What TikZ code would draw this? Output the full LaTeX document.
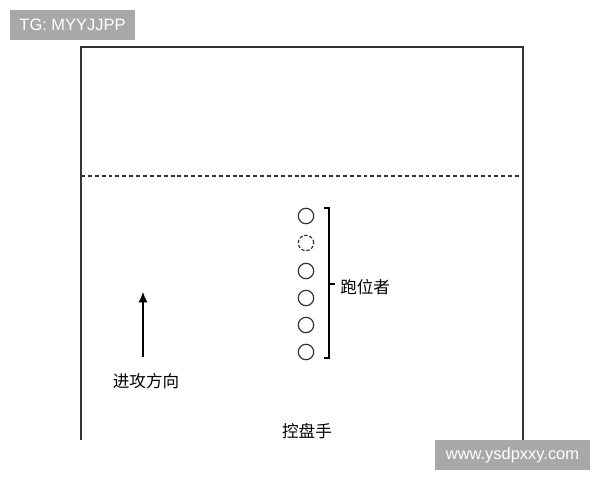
\documentclass[tikz,border=0pt]{standalone}
\usepackage{fontspec}
\setmainfont{Liberation Sans}
\newfontfamily\cjk{Noto Sans CJK SC}
\usetikzlibrary{arrows.meta,calc}
\definecolor{courtline}{HTML}{333333}
\definecolor{tagfill}{HTML}{A8A8A8}

\begin{document}
\begin{tikzpicture}[x=0.025cm, y=-0.025cm,
  player/.style={circle, draw=courtline, line width=0.85pt, minimum size=0.385cm, inner sep=0pt},
  tagbox/.style={fill=tagfill, text=white, font=\fontsize{11.7}{12}\selectfont, minimum height=0.75cm, inner sep=0pt},
  cntext/.style={font=\cjk\fontsize{11.8}{12}\selectfont, text=black, inner sep=0pt}]
  \useasboundingbox (0,0) rectangle (600,480);

  % Half court outline
  \coordinate (cbl) at (81,440);
  \coordinate (ctl) at (81,47);
  \coordinate (ctr) at (523,47);
  \coordinate (cbr) at (523,440);
  \draw[courtline, line width=1.1pt] (cbl) -- (ctl) -- (ctr) -- (cbr);

  % Three point line (dashed)
  \coordinate (dl) at (81,176);
  \coordinate (dr) at (523,176);
  \draw[courtline, line width=0.9pt, dash pattern=on 2.8pt off 2.1pt] (dl) -- (dr);

  % Runners in a column
  \foreach \i/\y in {1/216, 3/271, 4/298, 5/325, 6/352}
    \node[player] (r\i) at (306,\y) {};
  \node[player, dash pattern=on 2.4pt off 1.3pt] (r2) at (306,243) {};

  % Bracket with label
  \coordinate (bt) at (329,208);
  \coordinate (bb) at (329,358);
  \coordinate (bm) at (329,284);
  \draw[black, line width=0.9pt] ($(bt)+(-5,0)$) -- (bt) -- (bb) -- ($(bb)+(-5,0)$);
  \draw[black, line width=0.9pt] (bm) -- ($(bm)+(6,0)$);
  \node[cntext, anchor=west] (runner) at (340,287) {跑位者};

  % Direction of attack
  \node[cntext] (dir) at (146,381) {进攻方向};
  \coordinate (a0) at (143,357);
  \coordinate (a1) at (143,292);
  \draw[black, line width=0.85pt, -{Latex[length=2.6mm, width=2.3mm]}] (a0) -- (a1);

  % Ball handler
  \node[cntext] (handler) at (307,431) {控盘手};

  % Watermarks
  \node[tagbox, minimum width=3.125cm] (tg) at (72.5,25) {TG: MYYJJPP};
  \node[tagbox, minimum width=3.875cm] (site) at (512.5,455) {www.ysdpxxy.com};
\end{tikzpicture}
\end{document}
